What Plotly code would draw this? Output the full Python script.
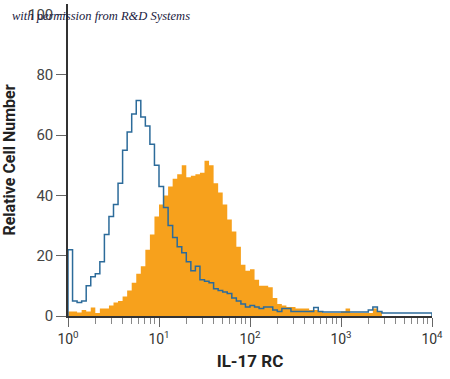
import plotly.graph_objects as go

# Histogram channels: bins of equal width in log10 units, starting at 10^0
bin_width_decades = 0.05

isotype_counts = [22, 5, 4.5, 5, 10, 13, 14, 18, 27, 33,
                  37, 44, 55, 61, 67, 71.5, 66, 63, 57, 50,
                  43, 36, 30, 26, 23, 21, 18, 15, 16.5, 12,
                  11.5, 11, 9, 8.5, 8, 7.5, 6, 5, 4, 3,
                  3.5, 3, 2.5, 3, 3, 2, 1.5, 2.5, 2.5, 1.5,
                  1.5, 1.5, 1.5, 1.5, 2.8, 1.5, 1.3, 1.3, 1.3, 1.3,
                  1.3, 1.3, 1.3, 1.3, 1.3, 1.3, 2, 3, 1.5, 1,
                  1, 1, 1, 1, 1, 1, 1, 1, 1, 1]

il17rc_counts = [1.5, 1.5, 1.2, 2, 1.5, 2.8, 1, 2.5, 2.5, 3.5,
                 4.5, 5, 6.5, 8.5, 11, 14, 16.5, 22, 27, 33,
                 37, 40, 43, 45.5, 47, 50, 46, 46.5, 47, 47.5,
                 51.5, 50, 44, 41, 37, 32, 28, 23, 17, 15,
                 15.5, 12, 10, 10, 9.5, 6, 4, 3.5, 3, 3,
                 2.5, 2.5, 2.5, 2, 2, 1.5, 1, 1, 1, 1,
                 1.5, 2.5, 1, 1, 1, 1, 1, 2.5, 1.5]

y_ticks = [0, 20, 40, 60, 80, 100]
x_major = [1, 10, 100, 1000, 10000]
x_major_labels = ["10<sup>0</sup>", "10<sup>1</sup>", "10<sup>2</sup>",
                  "10<sup>3</sup>", "10<sup>4</sup>"]


def step_xy(counts):
    edges = [10 ** (bin_width_decades * i) for i in range(len(counts) + 1)]
    xs = [edges[0]] + edges + [edges[-1]]
    ys = [0] + list(counts) + [counts[-1], 0]
    return xs, ys


ox, oy = step_xy(il17rc_counts)
bx, by = step_xy(isotype_counts)

fig = go.Figure()
fig.add_trace(go.Scatter(x=ox, y=oy, mode="lines", line=dict(shape="hv", width=0),
                         fill="tozeroy", fillcolor="#F7A11C", hoverinfo="skip"))
fig.add_trace(go.Scatter(x=bx, y=by, mode="lines",
                         line=dict(shape="hv", width=1.5, color="#2C6B9A"), hoverinfo="skip"))

minor_vals = [m * 10 ** d for d in range(4) for m in range(2, 10)]
cond = "Roboto, Liberation Sans, sans-serif"

fig.update_layout(
    width=450, height=379,
    margin=dict(l=68, r=18, t=4, b=63, autoexpand=False),
    paper_bgcolor="white", plot_bgcolor="white",
    showlegend=False,
    xaxis=dict(type="log", range=[0, 4], showgrid=False, zeroline=False, automargin=False,
               showline=True, linecolor="#333", linewidth=1.5,
               tickmode="array", tickvals=x_major, ticktext=x_major_labels,
               ticks="outside", ticklen=9, tickcolor="#666", tickwidth=1,
               tickfont=dict(family=cond, size=14, color="#333"),
               minor=dict(tickmode="array", tickvals=minor_vals, ticks="outside",
                          ticklen=6, tickcolor="#888", tickwidth=1),
               title=dict(text="<b>IL-17 RC</b>", font=dict(family=cond, size=17, color="#222"),
                          standoff=10)),
    yaxis=dict(range=[0, 103.5], showgrid=False, zeroline=False, automargin=False,
               showline=True, linecolor="#333", linewidth=1.5,
               tickmode="array", tickvals=y_ticks,
               ticks="outside", ticklen=10, tickcolor="#666", tickwidth=1,
               tickfont=dict(family=cond, size=15, color="#444"),
               title=dict(text="<b>Relative Cell Number</b>",
                          font=dict(family=cond, size=16, color="#222"), standoff=12)),
)

fig.add_annotation(text="<i>with permission from R&amp;D Systems</i>",
                   xref="paper", yref="paper", x=-0.159, y=0.9615,
                   xanchor="left", yanchor="middle", showarrow=False,
                   font=dict(family="Liberation Serif, serif", size=12.5, color="#1a1a40"))

fig.write_html("out.html", config={"displayModeBar": False},
               post_script="document.body.style.margin='0';")
